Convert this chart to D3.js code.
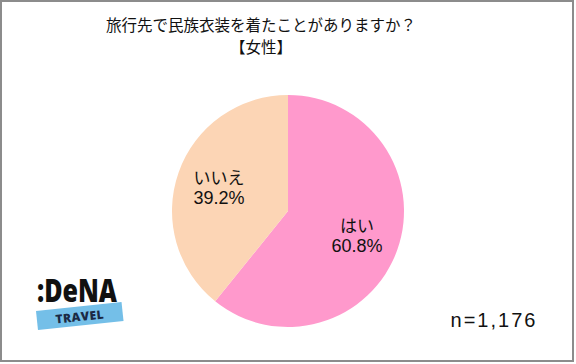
<!DOCTYPE html>
<html>
<head>
<meta charset="utf-8">
<script src="https://cdn.jsdelivr.net/npm/d3@7.9.0/dist/d3.min.js"></script>
<style>
  html, body { margin: 0; padding: 0; background: #fff; }
  svg { display: block; }
</style>
</head>
<body>
<svg id="chart" width="576" height="364"></svg>
<script>
const labels = ['はい', 'いいえ'];
const values = [60.8, 39.2];
const colors = ['#ff99cc', '#fcd5b5'];
const titleLines = ['旅行先で民族衣装を着たことがありますか？', '【女性】'];
const sampleNote = 'n=1,176';

const svg = d3.select('#chart');
const jp = '"Noto Sans CJK JP", sans-serif';

// frame
svg.append('rect')
  .attr('x', 1).attr('y', 1)
  .attr('width', 572).attr('height', 360)
  .attr('fill', '#fff')
  .attr('stroke', '#8c8c8c')
  .attr('stroke-width', 2);

// title
svg.selectAll('text.title')
  .data(titleLines)
  .join('text')
  .attr('class', 'title')
  .attr('x', 261)
  .attr('y', (d, i) => 31 + i * 22)
  .attr('text-anchor', 'middle')
  .attr('font-family', jp)
  .attr('font-size', 15.5)
  .attr('fill', '#111')
  .text(d => d);

// pie
const data = labels.map((label, i) => ({ label, value: values[i], color: colors[i] }));
const pie = d3.pie().sort(null).value(d => d.value);
const radius = 116;
const arc = d3.arc().innerRadius(0).outerRadius(radius);
const g = svg.append('g').attr('transform', 'translate(288,211)');

const arcs = pie(data);
g.selectAll('path')
  .data(arcs)
  .join('path')
  .attr('d', arc)
  .attr('fill', d => d.data.color);

// slice labels
const labelArc = d3.arc().innerRadius(radius * 0.63).outerRadius(radius * 0.63);
arcs.forEach(a => {
  let [x, y] = labelArc.centroid(a);
  const t = g.append('text')
    .attr('text-anchor', 'middle')
    .attr('font-family', jp)
    .attr('font-size', 17)
    .attr('fill', '#111');
  t.append('tspan').attr('x', x).attr('y', y - 3).text(a.data.label);
  t.append('tspan').attr('x', x).attr('y', y + 17)
    .attr('font-family', 'Arial, "Liberation Sans", sans-serif')
    .attr('font-size', 18)
    .text(a.data.value.toFixed(1) + '%');
});

// sample size
svg.append('text')
  .attr('x', 494)
  .attr('y', 327)
  .attr('text-anchor', 'middle')
  .attr('font-family', 'Arial, "Liberation Sans", sans-serif')
  .attr('font-size', 20)
  .attr('letter-spacing', 2)
  .attr('fill', '#111')
  .text(sampleNote);

// logo
const logo = svg.append('g').attr('transform', 'translate(37,273)');
logo.append('text')
  .attr('x', 0).attr('y', 29)
  .attr('font-family', '"Open Sans", sans-serif')
  .attr('font-weight', 800)
  .attr('font-size', 32)
  .attr('textLength', 80)
  .attr('lengthAdjust', 'spacingAndGlyphs')
  .attr('fill', '#111')
  .text(':DeNA');
const band = logo.append('g').attr('transform', 'translate(-1,38) rotate(-6)');
band.append('rect')
  .attr('x', 0).attr('y', 0)
  .attr('width', 86).attr('height', 19)
  .attr('fill', '#74bfe8');
band.append('text')
  .attr('x', 43).attr('y', 14.5)
  .attr('text-anchor', 'middle')
  .attr('font-family', '"Open Sans", sans-serif')
  .attr('font-weight', 800)
  .attr('font-size', 12)
  .attr('letter-spacing', 0.5)
  .attr('fill', '#1b2a44')
  .text('TRAVEL');
</script>
</body>
</html>
